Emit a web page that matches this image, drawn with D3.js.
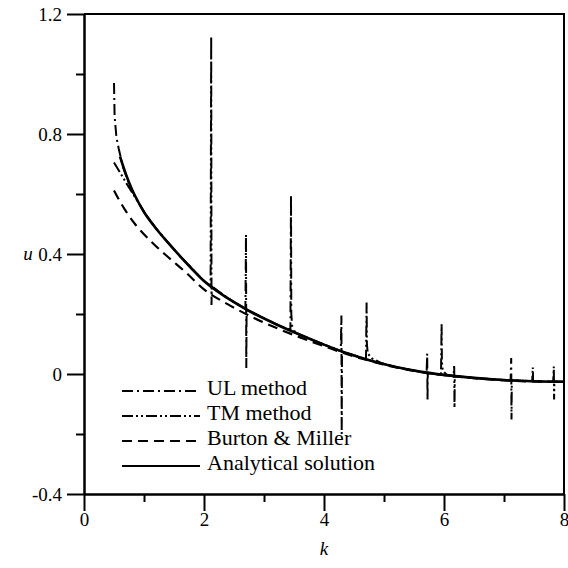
<!DOCTYPE html>
<html>
<head>
<meta charset="utf-8">
<script src="https://cdn.jsdelivr.net/npm/d3@7"></script>
<style>
body { margin: 0; background: #fff; }
svg { display: block; }
svg text { font-family: "Liberation Serif", Tinos, "Times New Roman", Times, serif; fill: #000; }
</style>
</head>
<body>
<svg></svg>
<script>
var screen = {width: 568, height: 568}
var margins = {top: 14, right: 4, bottom: 74, left: 84}

// tick values
var xTicks = [0, 2, 4, 6, 8]
var xMinor = [1, 3, 5, 7]
var yTicks = [-0.4, 0, 0.4, 0.8, 1.2]
var yMinor = [-0.2, 0.2, 0.6, 1.0]

// [k, u]
var analytical = [[0.6,0.725],[0.7,0.665],[0.8,0.615],[0.9,0.575],[1.0,0.54],[1.2,0.485],[1.4,0.438],
    [1.6,0.393],[1.8,0.35],[2.0,0.31],[2.4,0.252],[2.8,0.205],[3.2,0.166],[3.6,0.131],[4.0,0.098],
    [4.4,0.068],[4.8,0.043],[5.2,0.023],[5.6,0.008],[6.0,-0.003],[6.5,-0.013],[7.0,-0.02],[7.5,-0.024],[8.0,-0.026]]

var burtonMiller = [[0.5,0.612],[0.6,0.575],[0.7,0.542],[0.85,0.5],[1.0,0.466],[1.2,0.426],[1.4,0.39],
    [1.7,0.338],[2.0,0.282],[2.4,0.232],[2.8,0.19],[3.2,0.154],[3.6,0.122],[4.0,0.093],[4.4,0.065],
    [4.8,0.042],[5.2,0.022],[5.6,0.007],[6.0,-0.004],[6.5,-0.014],[7.0,-0.021],[7.5,-0.025],[8.0,-0.026]]

var ulMethod = [[0.5,0.97],[0.51,0.86],[0.54,0.79],[0.58,0.75],[0.65,0.69],[0.75,0.635],[0.85,0.592],
    [1.0,0.54],[1.2,0.485],[1.4,0.438],[1.6,0.393],[2.0,0.31],[2.4,0.252],[2.69,0.217],[2.7,0.465],[2.705,0.02],
    [2.71,0.215],[3.0,0.186],[3.2,0.166],[3.44,0.146],[3.45,0.595],[3.455,0.2],[3.47,0.16],[3.52,0.138],
    [3.6,0.13],[4.0,0.098],[4.28,0.076],[4.29,0.195],[4.295,-0.2],[4.3,0.075],[4.8,0.043],[5.2,0.023],
    [5.6,0.008],[5.71,0.004],[5.72,0.068],[5.725,-0.085],[5.73,0.003],[6.0,-0.003],[6.5,-0.013],
    [7.0,-0.02],[7.11,-0.021],[7.12,0.053],[7.125,-0.152],[7.13,-0.021],[7.5,-0.024],[8.0,-0.026]]

var tmMethod = [[0.5,0.705],[0.6,0.672],[0.7,0.638],[0.85,0.59],[1.0,0.54],[1.2,0.485],[1.4,0.438],
    [1.6,0.393],[2.0,0.31],[2.11,0.294],[2.12,1.125],[2.125,0.23],[2.13,0.292],[2.4,0.252],[2.8,0.205],
    [3.2,0.166],[3.6,0.131],[4.0,0.098],[4.4,0.068],[4.7,0.049],[4.71,0.238],[4.715,0.1],[4.73,0.068],
    [4.8,0.052],[4.95,0.037],[5.2,0.023],[5.6,0.008],[5.95,-0.002],[5.96,0.17],[5.965,0.04],[5.98,0.012],
    [6.05,-0.004],[6.16,-0.007],[6.17,0.03],[6.175,-0.112],[6.18,-0.007],[6.5,-0.013],[7.0,-0.02],
    [7.47,-0.024],[7.48,0.022],[7.485,-0.024],[7.82,-0.026],[7.83,0.025],[7.835,-0.085],[7.84,-0.026],[8.0,-0.026]]

var legendNames = ["UL method", "TM method", "Burton & Miller", "Analytical solution"]
var legendDash = ["11,4,2,4", "11,3,2,3,2,3", "10,6", null]

var svg = d3.select("svg")
    .attr("width", screen.width)
    .attr("height", screen.height)

var width = screen.width - margins.left - margins.right
var height = screen.height - margins.top - margins.bottom

var xScale = d3.scaleLinear().domain([0, 8]).range([margins.left, margins.left + width])
var yScale = d3.scaleLinear().domain([-0.4, 1.2]).range([margins.top + height, margins.top])

var yFmt = function(d) { return d === 0 ? "0" : d3.format(".1f")(d).replace("\u2212", "-") }
var xFmt = function(d) { return String(d) }

// minor ticks first
svg.append("g")
    .attr("transform", "translate(" + margins.left + ",0)")
    .call(d3.axisLeft(yScale).tickValues(yMinor).tickSize(8).tickSizeOuter(0).tickFormat(""))
svg.append("g")
    .attr("transform", "translate(0," + (margins.top + height) + ")")
    .call(d3.axisBottom(xScale).tickValues(xMinor).tickSize(8).tickSizeOuter(0).tickFormat(""))

svg.append("g")
    .attr("transform", "translate(" + margins.left + ",0)")
    .call(d3.axisLeft(yScale).tickValues(yTicks).tickSize(17).tickSizeOuter(0).tickPadding(5).tickFormat(yFmt))
svg.append("g")
    .attr("transform", "translate(0," + (margins.top + height) + ")")
    .call(d3.axisBottom(xScale).tickValues(xTicks).tickSize(17).tickSizeOuter(0).tickPadding(2).tickFormat(xFmt))

svg.selectAll("g").attr("font-family", null)
svg.selectAll(".domain, .tick line").attr("stroke", "#000").attr("stroke-width", 2)
svg.selectAll(".tick text").style("font-size", "19px")

// top and right frame
svg.append("path")
    .attr("d", "M" + xScale(0) + "," + yScale(1.2) + "H" + xScale(8) + "V" + yScale(-0.4))
    .attr("fill", "none").attr("stroke", "#000").attr("stroke-width", 2)

svg.append("text").text("u")
    .attr("x", 28).attr("y", yScale(0.4) + 6)
    .attr("text-anchor", "middle")
    .style("font-style", "italic").style("font-size", "19px")
svg.append("text").text("k")
    .attr("x", xScale(4)).attr("y", 555)
    .attr("text-anchor", "middle")
    .style("font-style", "italic").style("font-size", "19px")

var smooth = d3.line()
    .x(function(d) { return xScale(d[0]) })
    .y(function(d) { return yScale(d[1]) })
    .curve(d3.curveMonotoneX)
var straight = d3.line()
    .x(function(d) { return xScale(d[0]) })
    .y(function(d) { return yScale(d[1]) })

var drawline = function(data, gen, dash, w)
{
    svg.append("path")
        .datum(data)
        .attr("fill", "none")
        .attr("stroke", "#000")
        .attr("stroke-width", w)
        .attr("stroke-dasharray", dash)
        .attr("d", gen)
}

drawline(burtonMiller, smooth, "10,6", 2.2)
drawline(ulMethod, straight, "11,4,2,4", 2)
drawline(tmMethod, straight, "11,3,2,3,2,3", 2)
drawline(analytical, smooth, null, 2.6)

// legend
var legend = svg.append("g").attr("id", "legend")
var rows = legend.selectAll("g")
    .data(legendNames)
    .enter()
    .append("g")
    .attr("transform", function(d, i) { return "translate(0," + (391 + i * 25) + ")" })

rows.append("line")
    .attr("x1", 122).attr("x2", 200)
    .attr("stroke", "#000").attr("stroke-width", 2)
    .attr("stroke-dasharray", function(d, i) { return legendDash[i] })

rows.append("text")
    .text(function(d) { return d })
    .attr("x", 207).attr("y", 4)
    .style("font-size", "22px")
</script>
</body>
</html>
